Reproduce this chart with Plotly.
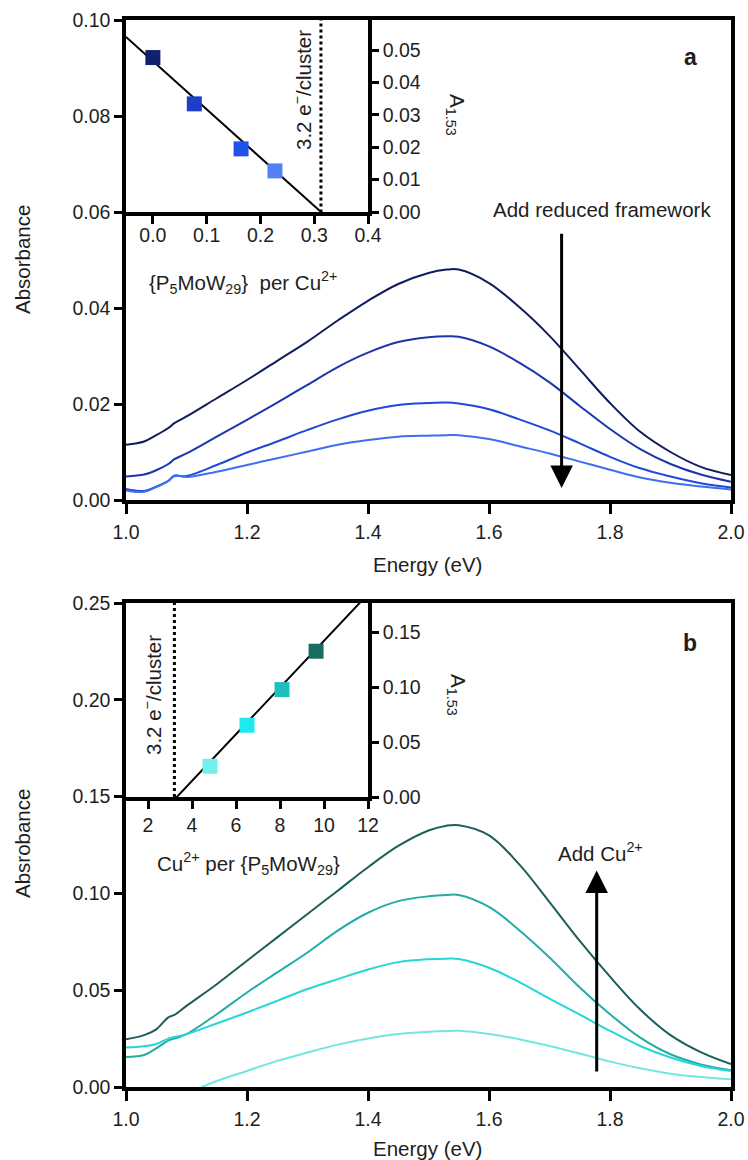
import plotly.graph_objects as go

# ---------------------------------------------------------------- data
energy = [1.00, 1.03, 1.05, 1.07, 1.08, 1.10, 1.15, 1.20, 1.25, 1.30, 1.35,
          1.40, 1.45, 1.50, 1.53, 1.55, 1.60, 1.65, 1.70, 1.75, 1.80, 1.85,
          1.90, 1.95, 2.00]

# (a) titration with reduced framework
spec_a1 = [0.0115, 0.0122, 0.0135, 0.0150, 0.0160, 0.0174, 0.0212, 0.0250, 0.0290,
           0.0330, 0.0374, 0.0415, 0.0450, 0.0473, 0.0480, 0.0480, 0.0452, 0.0402,
           0.0342, 0.0272, 0.0202, 0.0142, 0.0100, 0.0069, 0.0052]
spec_a2 = [0.0049, 0.0053, 0.0062, 0.0075, 0.0085, 0.0097, 0.0132, 0.0167, 0.0203,
           0.0240, 0.0277, 0.0307, 0.0329, 0.0339, 0.0341, 0.0340, 0.0320, 0.0286,
           0.0245, 0.0196, 0.0148, 0.0106, 0.0075, 0.0053, 0.0038]
spec_a3 = [0.0023, 0.0019, 0.0028, 0.0040, 0.0050, 0.0050, 0.0073, 0.0099, 0.0122,
           0.0146, 0.0168, 0.0186, 0.0198, 0.0202, 0.0203, 0.0201, 0.0189, 0.0168,
           0.0145, 0.0118, 0.0090, 0.0066, 0.0049, 0.0035, 0.0026]
spec_a4 = [0.0020, 0.0017, 0.0027, 0.0040, 0.0051, 0.0048, 0.0059, 0.0073, 0.0087,
           0.0101, 0.0115, 0.0125, 0.0132, 0.0134, 0.0135, 0.0135, 0.0127, 0.0112,
           0.0097, 0.0080, 0.0063, 0.0047, 0.0036, 0.0028, 0.0022]

# (b) titration with Cu2+
spec_b1 = [0.0247, 0.0268, 0.0298, 0.0360, 0.0372, 0.0419, 0.0531, 0.0652, 0.0773,
           0.0894, 0.1014, 0.1135, 0.1245, 0.1325, 0.1350, 0.1352, 0.1300, 0.1150,
           0.0955, 0.0755, 0.0570, 0.0400, 0.0268, 0.0180, 0.0118]
spec_b2 = [0.0155, 0.0165, 0.0200, 0.0240, 0.0250, 0.0273, 0.0376, 0.0488, 0.0592,
           0.0695, 0.0808, 0.0900, 0.0960, 0.0985, 0.0992, 0.0992, 0.0930, 0.0810,
           0.0669, 0.0514, 0.0376, 0.0255, 0.0169, 0.0117, 0.0086]
spec_b3 = [0.0204, 0.0210, 0.0222, 0.0250, 0.0258, 0.0273, 0.0328, 0.0385, 0.0445,
           0.0506, 0.0557, 0.0607, 0.0645, 0.0660, 0.0663, 0.0661, 0.0616, 0.0542,
           0.0456, 0.0374, 0.0290, 0.0212, 0.0152, 0.0109, 0.0083]
spec_b4 = [-0.0160, -0.0125, -0.0105, -0.0075, -0.0062, -0.0035, 0.0031, 0.0083, 0.0135,
           0.0178, 0.0219, 0.0251, 0.0274, 0.0285, 0.0289, 0.0290, 0.0274, 0.0247,
           0.0212, 0.0173, 0.0131, 0.0097, 0.0069, 0.0052, 0.0040]

# insets: absorbance at 1.53 eV
framework_per_cu = [0.0, 0.077, 0.164, 0.227]
a153_a = [0.0477, 0.0334, 0.0195, 0.0127]
cu_per_framework = [4.82, 6.5, 8.09, 9.64]
a153_b = [0.028, 0.0655, 0.098, 0.133]

# linear fits and the 3.2 e-/cluster threshold
fit_a_slope, fit_a_intercept = -0.149, 0.0466
fit_b_slope, fit_b_intercept = 0.0213, -0.0705
electrons_per_cluster = 3.2

main_x_ticks = [1.0, 1.2, 1.4, 1.6, 1.8, 2.0]
main_a_y_ticks = [0.00, 0.02, 0.04, 0.06, 0.08, 0.10]
main_b_y_ticks = [0.00, 0.05, 0.10, 0.15, 0.20, 0.25]
inset_a_x_ticks = [0.0, 0.1, 0.2, 0.3, 0.4]
inset_a_y_ticks = [0.00, 0.01, 0.02, 0.03, 0.04, 0.05]
inset_b_x_ticks = [2, 4, 6, 8, 10, 12]
inset_b_y_ticks = [0.00, 0.05, 0.10, 0.15]

# ---------------------------------------------------------------- style
W, H = 748, 1160
FONT = "Liberation Sans, Arial, sans-serif"
TXT = "#1e1e1e"
TICK_SIZE = 19.5
TEXT_SIZE = 20.5
colors_a = ["#111c5e", "#1c35ab", "#1f49d6", "#3f6ef0"]
markers_a = ["#12206e", "#1d3fc6", "#2153ea", "#5380f5"]
colors_b = ["#1c5f5a", "#22aca6", "#25d6d6", "#72e6e0"]
markers_b = ["#72f0f0", "#1ee8f0", "#1dbfbd", "#1b6b65"]


def fx(px):
    return px / W


def fy(py):
    return 1 - py / H


fig = go.Figure()

for ys, c in zip([spec_a1, spec_a2, spec_a3, spec_a4], colors_a):
    fig.add_trace(go.Scatter(x=energy, y=ys, mode="lines", line=dict(color=c, width=2, shape="spline"),
                             xaxis="x", yaxis="y", showlegend=False))
for ys, c in zip([spec_b1, spec_b2, spec_b3, spec_b4], colors_b):
    fig.add_trace(go.Scatter(x=energy, y=ys, mode="lines", line=dict(color=c, width=2, shape="spline"),
                             xaxis="x2", yaxis="y2", showlegend=False))

# inset (a)
xa_fit = [-0.05, 0.4]
fig.add_trace(go.Scatter(x=xa_fit, y=[fit_a_slope * v + fit_a_intercept for v in xa_fit], mode="lines",
                         line=dict(color="black", width=2), xaxis="x3", yaxis="y3", showlegend=False))
thr_a = 1 / electrons_per_cluster
fig.add_trace(go.Scatter(x=[thr_a, thr_a], y=[-0.002, 0.06], mode="lines",
                         line=dict(color="black", width=3, dash="dot"), xaxis="x3", yaxis="y3",
                         showlegend=False, cliponaxis=False))
fig.add_trace(go.Scatter(x=framework_per_cu, y=a153_a, mode="markers",
                         marker=dict(symbol="square", size=15, color=markers_a, line=dict(width=0)),
                         xaxis="x3", yaxis="y3", showlegend=False))

# inset (b)
xb_fit = [1, 12]
fig.add_trace(go.Scatter(x=xb_fit, y=[fit_b_slope * v + fit_b_intercept for v in xb_fit], mode="lines",
                         line=dict(color="black", width=2), xaxis="x4", yaxis="y4", showlegend=False))
fig.add_trace(go.Scatter(x=[electrons_per_cluster, electrons_per_cluster], y=[0, 0.177], mode="lines",
                         line=dict(color="black", width=3, dash="dot"), xaxis="x4", yaxis="y4",
                         showlegend=False))
fig.add_trace(go.Scatter(x=cu_per_framework, y=a153_b, mode="markers",
                         marker=dict(symbol="square", size=15, color=markers_b, line=dict(width=0)),
                         xaxis="x4", yaxis="y4", showlegend=False))

axis_common = dict(showgrid=False, zeroline=False, showline=True, linecolor="black", linewidth=3.5,
                   ticks="outside", tickcolor="black", tickwidth=3, ticklen=8, automargin=False,
                   tickfont=dict(family=FONT, size=TICK_SIZE, color=TXT))

main_dom_x = [fx(126), fx(731)]
inset_dom_x = [fx(126), fx(368)]

fig.update_layout(
    width=W, height=H, margin=dict(l=0, r=0, t=0, b=0, pad=0, autoexpand=False),
    paper_bgcolor="white", plot_bgcolor="rgba(0,0,0,0)",
    font=dict(family=FONT, size=TEXT_SIZE, color=TXT),
    xaxis=dict(axis_common, domain=main_dom_x, range=[1, 2], tickvals=main_x_ticks, tickformat=".1f",
               anchor="y", mirror=True, ticklen=10, ticklabelstandoff=2),
    yaxis=dict(axis_common, domain=[fy(500), fy(20)], range=[0, 0.1], tickvals=main_a_y_ticks,
               tickformat=".2f", anchor="x", mirror=True),
    xaxis2=dict(axis_common, domain=main_dom_x, range=[1, 2], tickvals=main_x_ticks, tickformat=".1f",
                anchor="y2", mirror=True, ticklen=10, ticklabelstandoff=2),
    yaxis2=dict(axis_common, domain=[fy(1087), fy(603)], range=[0, 0.25], tickvals=main_b_y_ticks,
                tickformat=".2f", anchor="x2", mirror=True),
    xaxis3=dict(axis_common, domain=inset_dom_x, range=[-0.05, 0.4], tickvals=inset_a_x_ticks,
                tickformat=".1f", anchor="y3", ticklabelstandoff=-5),
    yaxis3=dict(axis_common, domain=[fy(212), fy(20)], range=[0, 0.0593], tickvals=inset_a_y_ticks,
                tickformat=".2f", anchor="x3", side="right", ticklen=7),
    xaxis4=dict(axis_common, domain=inset_dom_x, range=[1, 12], tickvals=inset_b_x_ticks,
                anchor="y4"),
    yaxis4=dict(axis_common, domain=[fy(797), fy(603)], range=[0, 0.177], tickvals=inset_b_y_ticks,
                tickformat=".2f", anchor="x4", side="right", ticklen=7),
)


def label(text, x, y, size=TEXT_SIZE, angle=0, bold=False):
    if bold:
        text = "<b>" + text + "</b>"
    fig.add_annotation(text=text, x=fx(x), y=fy(y), xref="paper", yref="paper", showarrow=False,
                       xanchor="center", yanchor="middle", textangle=angle,
                       font=dict(family=FONT, size=size, color=TXT))


# panel (a) texts
label("Absorbance", 22, 260, angle=-90)
label("Energy (eV)", 428, 565)
label("{P<sub>5</sub>MoW<sub>29</sub>}  per Cu<sup>2+</sup>", 243, 282)
label("3.2 e<sup>\u2212</sup>/cluster", 302, 90, angle=-90)
label("A<sub>1.53</sub>", 456, 115, angle=90)
label("a", 690, 57, size=23, bold=True)
label("Add reduced framework", 602, 210)

# panel (b) texts
label("Absrobance", 22, 844, angle=-90)
label("Energy (eV)", 428, 1148)
label("Cu<sup>2+</sup> per {P<sub>5</sub>MoW<sub>29</sub>}", 248, 863)
label("3.2 e<sup>\u2212</sup>/cluster", 152, 695, angle=-90)
label("A<sub>1.53</sub>", 457, 695, angle=90)
label("b", 690, 643, size=23, bold=True)
label("Add Cu<sup>2+</sup>", 600, 852)

# trend arrows
fig.add_annotation(x=1.72, y=0.0025, ax=1.72, ay=0.0558, xref="x", yref="y", axref="x", ayref="y",
                   text="", showarrow=True, arrowhead=2, arrowsize=1.5, arrowwidth=3, arrowcolor="black",
                   standoff=0)
fig.add_annotation(x=1.778, y=0.1118, ax=1.778, ay=0.0072, xref="x2", yref="y2", axref="x2", ayref="y2",
                   text="", showarrow=True, arrowhead=2, arrowsize=1.5, arrowwidth=3, arrowcolor="black",
                   standoff=0)

fig.write_html("out.html",
               post_script="document.body.style.margin='0';document.body.style.overflow='hidden';")
